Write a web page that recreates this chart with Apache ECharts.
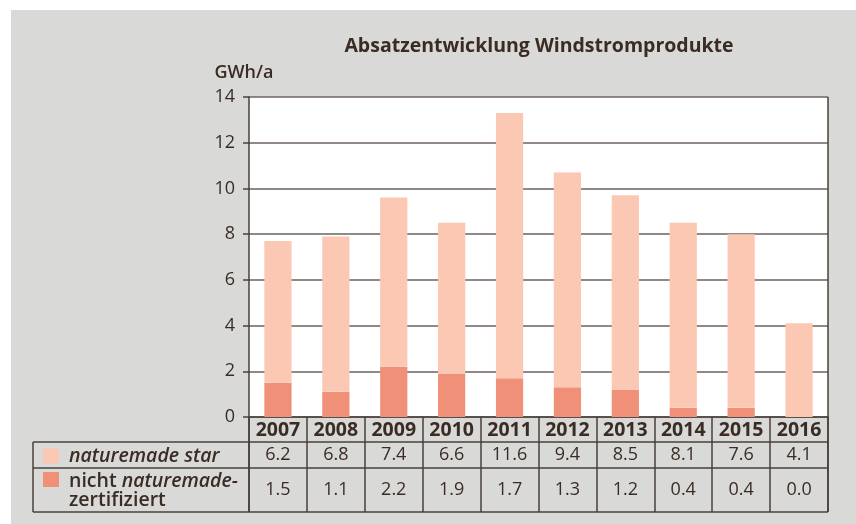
<!DOCTYPE html>
<html>
<head>
<meta charset="utf-8">
<script src="https://cdn.jsdelivr.net/npm/echarts@6/dist/echarts.min.js"></script>
<style>
  html, body { margin: 0; padding: 0; background: #fff; }
  #chart { width: 856px; height: 524px; }
</style>
</head>
<body>
<div id="chart"></div>
<script>
// Jahre und Werte (GWh/a)
const years = ['2007', '2008', '2009', '2010', '2011', '2012', '2013', '2014', '2015', '2016'];
const starValues = [6.2, 6.8, 7.4, 6.6, 11.6, 9.4, 8.5, 8.1, 7.6, 4.1];
const nichtValues = [1.5, 1.1, 2.2, 1.9, 1.7, 1.3, 1.2, 0.4, 0.4, 0.0];
const yTicks = [0, 2, 4, 6, 8, 10, 12, 14];

const txt = '#3a2c24';
const lineCol = '#4a3f39';
const font = 'Open Sans';

// Lage von Plot und Tabelle
const plotLeft = 249, plotRight = 828, plotTop = 97, zeroY = 417;
const row1Y = 442, row2Y = 468, tableBottom = 512, tableLeft = 33;

const myChart = echarts.init(document.getElementById('chart'));

function hLine(x1, x2, y) {
  return { type: 'line', shape: { x1: x1, y1: y, x2: x2, y2: y },
           style: { stroke: lineCol, lineWidth: 1.5 }, z: 100 };
}
function vLine(x, y1, y2) {
  return { type: 'line', shape: { x1: x, y1: y1, x2: x, y2: y2 },
           style: { stroke: lineCol, lineWidth: 1.5 }, z: 100 };
}

const option = {
  backgroundColor: '#ffffff',
  animation: false,
  textStyle: { fontFamily: font, color: txt },
  title: {
    text: 'Absatzentwicklung Windstromprodukte',
    left: 534,
    top: 31,
    textAlign: 'center',
    textStyle: { fontFamily: font, fontSize: 19.5, fontWeight: 'bold', color: txt }
  },
  legend: [
    {
      data: ['naturemade star'],
      left: tableLeft + 10, top: 446, padding: 0,
      orient: 'vertical',
      icon: 'rect', itemWidth: 16, itemHeight: 15, itemGap: 0,
      selectedMode: false,
      textStyle: { fontFamily: font, fontSize: 19.5, fontStyle: 'italic', fontWeight: 600,
                   color: txt, lineHeight: 19, padding: [0, 0, 0, 5] }
    },
    {
      data: ['nicht naturemade-zertifiziert'],
      left: tableLeft + 10, top: 449, padding: 0,
      orient: 'vertical',
      icon: 'rect', itemWidth: 16, itemHeight: 15, itemGap: 0,
      selectedMode: false,
      formatter: function () { return '{n|nicht }{i|naturemade-}\n{n|zertifiziert}'; },
      textStyle: {
        fontFamily: font, fontSize: 19.5, fontWeight: 600, color: txt, lineHeight: 19,
        padding: [23, 0, 0, 5],
        rich: {
          n: { fontFamily: font, fontSize: 19.5, fontWeight: 600, color: txt, lineHeight: 19 },
          i: { fontFamily: font, fontSize: 19.5, fontWeight: 600, color: txt,
               fontStyle: 'italic', lineHeight: 19 }
        }
      }
    }
  ],
  grid: [
    { left: plotLeft, right: 856 - plotRight, top: plotTop, bottom: 524 - zeroY,
      show: true, backgroundColor: '#ffffff', borderWidth: 0 },
    { left: plotLeft, right: 856 - plotRight, top: zeroY, bottom: 524 - tableBottom,
      show: false }
  ],
  xAxis: [
    { // Jahreszeile
      type: 'category', gridIndex: 0, position: 'bottom', data: years,
      axisLine: { show: true, lineStyle: { color: lineCol, width: 1.5 } },
      axisTick: { show: false },
      axisLabel: { margin: 13, verticalAlign: 'middle', fontFamily: font, fontSize: 19.5,
                   fontWeight: 'bold', color: txt, interval: 0 }
    },
    { // Spaltenlinien der Tabelle
      type: 'category', gridIndex: 1, position: 'bottom', data: years,
      axisLine: { show: false }, axisTick: { show: false }, axisLabel: { show: false },
      splitLine: { show: true, interval: 0, lineStyle: { color: lineCol, width: 1.5 } }
    },
    { // Zeile naturemade star
      type: 'category', gridIndex: 0, position: 'bottom', data: years,
      axisLine: { show: false }, axisTick: { show: false },
      axisLabel: { margin: 38, verticalAlign: 'middle', fontFamily: font, fontSize: 18,
                   color: txt, interval: 0,
                   formatter: function (v, i) { return starValues[i].toFixed(1); } }
    },
    { // Zeile nicht zertifiziert
      type: 'category', gridIndex: 0, position: 'bottom', data: years,
      axisLine: { show: false }, axisTick: { show: false },
      axisLabel: { margin: 73, verticalAlign: 'middle', fontFamily: font, fontSize: 18,
                   color: txt, interval: 0,
                   formatter: function (v, i) { return nichtValues[i].toFixed(1); } }
    }
  ],
  yAxis: [
    {
      type: 'value', gridIndex: 0,
      min: yTicks[0], max: yTicks[yTicks.length - 1], interval: 2,
      name: 'GWh/a', nameLocation: 'end', nameGap: 24,
      nameTextStyle: { fontFamily: font, fontSize: 18, fontWeight: 600, color: txt,
                       verticalAlign: 'middle', align: 'center', padding: [0, 10, 0, 0] },
      axisLine: { show: true, lineStyle: { color: lineCol, width: 1.5 } },
      axisTick: { show: true, length: 6, lineStyle: { color: lineCol, width: 1.5 } },
      axisLabel: { margin: 14, fontFamily: font, fontSize: 18, color: txt },
      splitLine: { show: true, lineStyle: { color: '#6b625c', width: 1.5 } }
    },
    { type: 'value', gridIndex: 1, min: 0, max: 1, show: false }
  ],
  series: [
    {
      name: 'nicht naturemade-zertifiziert', type: 'bar', stack: 'total',
      xAxisIndex: 0, yAxisIndex: 0, barWidth: '47%',
      itemStyle: { color: '#f19079' },
      data: nichtValues
    },
    {
      name: 'naturemade star', type: 'bar', stack: 'total',
      xAxisIndex: 0, yAxisIndex: 0, barWidth: '47%',
      itemStyle: { color: '#fbc8b3' },
      data: starValues
    }
  ],
  graphic: [
    { type: 'rect', shape: { x: 11, y: 10, width: 856 - 11, height: 524 - 10 },
      style: { fill: '#d9d9d7' }, z: -100, silent: true },
    vLine(plotRight, plotTop, tableBottom),
    vLine(plotLeft, zeroY, tableBottom),
    vLine(tableLeft, row1Y, tableBottom),
    hLine(tableLeft, plotRight, row1Y),
    hLine(tableLeft, plotRight, row2Y),
    hLine(tableLeft, plotRight, tableBottom)
  ]
};

myChart.setOption(option);
</script>
</body>
</html>
